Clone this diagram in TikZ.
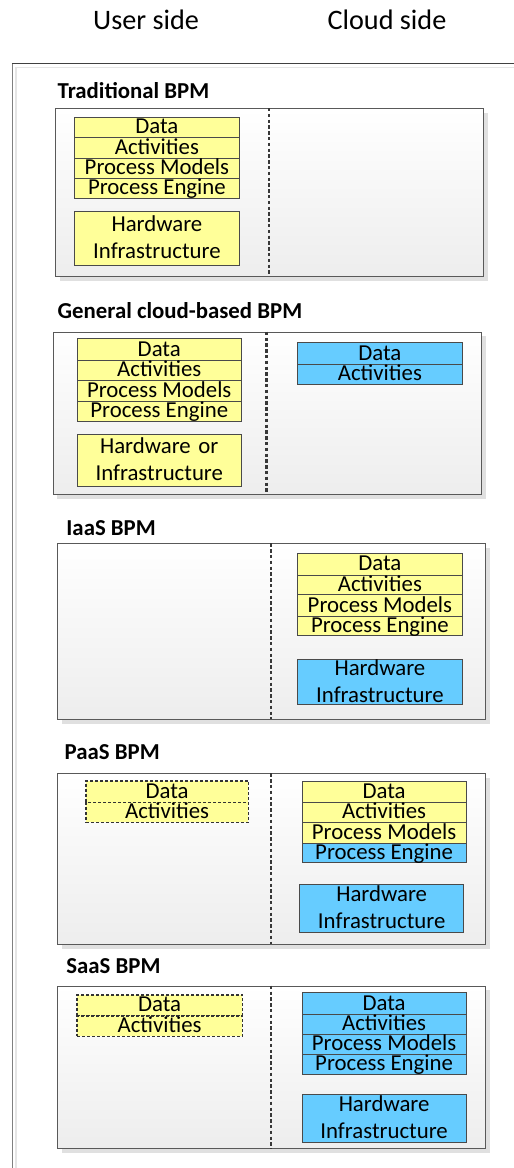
\documentclass[tikz,border=0pt]{standalone}
\usepackage{fontspec}
\setmainfont{Carlito}
\usetikzlibrary{shadows}
\definecolor{rowyellow}{HTML}{FFFF99}
\definecolor{rowblue}{HTML}{66CCFF}
\definecolor{edgegray}{HTML}{4A4A4A}
\begin{document}
\begin{tikzpicture}[x=1bp,y=-1bp,
  boxfont/.style={font=\fontsize{22.8bp}{27bp}\selectfont},
  headfont/.style={font=\fontsize{28.2bp}{32bp}\selectfont},
  titlefont/.style={font=\fontsize{22.8bp}{27bp}\selectfont\bfseries},
  panel/.style={draw=black!65, line width=1bp, top color=white, bottom color=black!7,
    drop shadow={shadow xshift=4bp, shadow yshift=-4bp, fill=black!12, opacity=1},
    inner sep=0pt, anchor=north west},
  divider/.style={draw=black!78, line width=2.8bp, dash pattern=on 3.4bp off 2.4bp},
  row/.style={draw=edgegray, line width=0.8bp, inner sep=0pt, anchor=north west,
    boxfont, text height=15bp, text depth=2bp, minimum width=165bp},
  yrow/.style={row, fill=rowyellow},
  brow/.style={row, fill=rowblue},
  drow/.style={row, fill=rowyellow, draw=black!80, line width=1.5bp, dash pattern=on 3bp off 2bp},
  hwbox/.style={draw=edgegray, line width=0.8bp, inner sep=0pt, anchor=north west,
    boxfont, align=center, text height=15bp, text depth=28bp},
  hwy/.style={hwbox, fill=rowyellow},
  hwb/.style={hwbox, fill=rowblue},
  ptitle/.style={titlefont, anchor=base west, inner sep=0pt},
  side/.style={headfont, anchor=base, inner sep=0pt}
]
\useasboundingbox (0,0) rectangle (514,1168);

% outer frame
\draw[black!10, line width=1.5bp] (16,1170) -- (16,67.5) -- (520,67.5);
\draw[black!50, line width=1.6bp] (12.5,1170) -- (12.5,63.5);
\draw[black!75, line width=1.5bp] (11.75,63.5) -- (520,63.5);

% headers
\node[side] (user) at (146,29.3) {User side};
\node[side] (cloud) at (387,29.3) {Cloud side};

% ---------- Traditional BPM
\node[ptitle] (t1) at (57.5,98.3) {Traditional BPM};
\node[panel, minimum width=428bp, minimum height=168bp] (p1) at (55,108) {};
\draw[divider] (269,108) -- (269,276);
\node[yrow, minimum height=20bp] (p1d) at (74,117) {Data};
\node[yrow, minimum height=21bp] (p1a) at (74,137) {Activities};
\node[yrow, minimum height=20bp] (p1m) at (74,158) {Process Models};
\node[yrow, minimum height=20bp] (p1e) at (74,178) {Process Engine};
\node[hwy, text width=165bp, minimum height=54bp] (p1h) at (74,211) {Hardware\\Infrastructure};

% ---------- General cloud-based BPM
\node[ptitle] (t2) at (57.5,318) {General cloud-based BPM};
\node[panel, minimum width=428.3bp, minimum height=162.3bp] (p2) at (52.7,331.7) {};
\draw[divider] (266.7,331.7) -- (266.7,494);
\node[yrow, minimum height=21.7bp, minimum width=164.3bp] (p2d) at (76.7,338.3) {Data};
\node[yrow, minimum height=20bp, minimum width=164.3bp] (p2a) at (76.7,360) {Activities};
\node[yrow, minimum height=21bp, minimum width=164.3bp] (p2m) at (76.7,380) {Process Models};
\node[yrow, minimum height=19.7bp, minimum width=164.3bp] (p2e) at (76.7,401) {Process Engine};
\node[hwy, text width=164.3bp, minimum height=51.7bp] (p2h) at (76.7,434) {Hardware~or\\Infrastructure};
\node[brow, minimum height=22bp, minimum width=164.4bp] (p2cd) at (297.3,342.3) {Data};
\node[brow, minimum height=19.4bp, minimum width=164.4bp] (p2ca) at (297.3,364.3) {Activities};

% ---------- IaaS BPM
\node[ptitle] (t3) at (66.2,535) {IaaS BPM};
\node[panel, minimum width=428bp, minimum height=176bp] (p3) at (57.3,543.3) {};
\draw[divider] (271,543.3) -- (271,719.3);
\node[yrow, minimum height=22.3bp, minimum width=164.4bp] (p3d) at (297.3,552.7) {Data};
\node[yrow, minimum height=19.3bp, minimum width=164.4bp] (p3a) at (297.3,575) {Activities};
\node[yrow, minimum height=21.7bp, minimum width=164.4bp] (p3m) at (297.3,594.3) {Process Models};
\node[yrow, minimum height=19bp, minimum width=164.4bp] (p3e) at (297.3,616) {Process Engine};
\node[hwb, text width=164.4bp, minimum height=45.3bp] (p3h) at (297.3,659) {Hardware\\Infrastructure};

% ---------- PaaS BPM
\node[ptitle] (t4) at (64.5,759.3) {PaaS BPM};
\node[panel, minimum width=428bp, minimum height=170.7bp] (p4) at (57.3,773.3) {};
\draw[divider] (271,773.3) -- (271,944);
\node[drow, minimum height=21.7bp, minimum width=162.7bp] (p4ud) at (85,780) {Data};
\node[drow, minimum height=20bp, minimum width=162.7bp] (p4ua) at (85,801.7) {Activities};
\node[yrow, minimum height=21bp, minimum width=164bp] (p4d) at (301.7,780.7) {Data};
\node[yrow, minimum height=20bp, minimum width=164bp] (p4a) at (301.7,801.7) {Activities};
\node[yrow, minimum height=21.6bp, minimum width=164bp] (p4m) at (301.7,821.7) {Process Models};
\node[brow, minimum height=19bp, minimum width=164bp] (p4e) at (301.7,843.3) {Process Engine};
\node[hwb, text width=164bp, minimum height=47.4bp] (p4h) at (299.3,884.3) {Hardware\\Infrastructure};

% ---------- SaaS BPM
\node[ptitle] (t5) at (66.2,973.3) {SaaS BPM};
\node[panel, minimum width=428bp, minimum height=162.6bp] (p5) at (57.3,985.7) {};
\draw[divider] (271,985.7) -- (271,1148.3);
\node[drow, minimum height=20.7bp, minimum width=165.7bp] (p5ud) at (76,994.3) {Data};
\node[drow, minimum height=20.7bp, minimum width=165.7bp] (p5ua) at (76,1015) {Activities};
\node[brow, minimum height=22bp, minimum width=164bp] (p5d) at (301.7,992.3) {Data};
\node[brow, minimum height=19.4bp, minimum width=164bp] (p5a) at (301.7,1014.3) {Activities};
\node[brow, minimum height=20bp, minimum width=164bp] (p5m) at (301.7,1033.7) {Process Models};
\node[brow, minimum height=20.6bp, minimum width=164bp] (p5e) at (301.7,1053.7) {Process Engine};
\node[hwb, text width=164bp, minimum height=47.4bp] (p5h) at (301.7,1094.3) {Hardware\\Infrastructure};
\end{tikzpicture}
\end{document}
